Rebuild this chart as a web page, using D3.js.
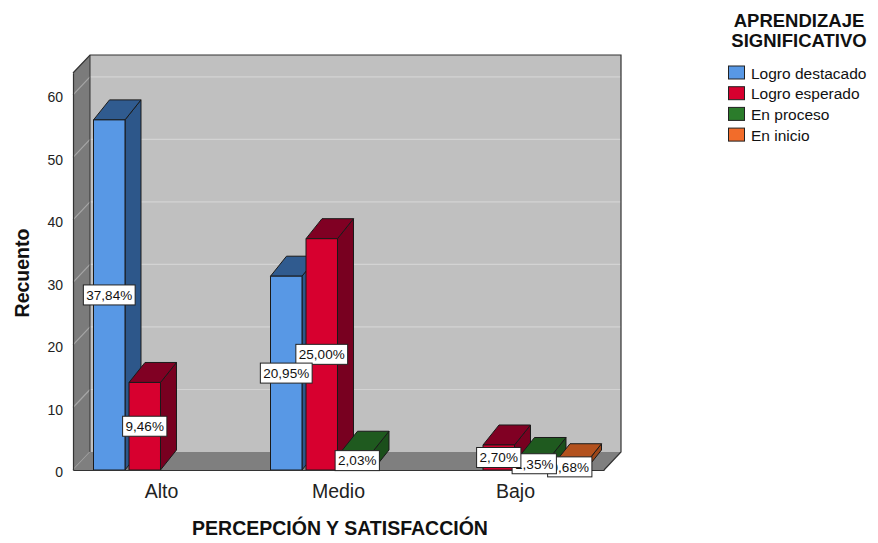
<!DOCTYPE html>
<html>
<head>
<meta charset="utf-8">
<script src="https://cdn.jsdelivr.net/npm/d3@7"></script>
<style>
  html, body { margin: 0; padding: 0; background: #ffffff; }
  svg { display: block; font-family: "Liberation Sans", Arial, sans-serif; }
</style>
</head>
<body>
<svg id="chart" width="878" height="543"></svg>
<script>
// Counts per perception level, one array per learning outcome
const categories = ["Alto", "Medio", "Bajo"];
const series = ["Logro destacado", "Logro esperado", "En proceso", "En inicio"];
const logroDestacado = [56, 31, 0];
const logroEsperado = [14, 37, 4];
const enProceso = [0, 3, 2];
const enInicio = [0, 0, 1];
const yTicks = [0, 10, 20, 30, 40, 50, 60];

const seriesValues = [logroDestacado, logroEsperado, enProceso, enInicio];

// Face colours: front, top, side
const faceColors = [
  { front: "#5898e5", top: "#305b8f", side: "#2d578a" },
  { front: "#d7002f", top: "#800023", side: "#780020" },
  { front: "#2b7c2b", top: "#1f5a1f", side: "#1b4f1b" },
  { front: "#f26c2a", top: "#b3511d", side: "#9c4618" }
];

(function () {
  const svg = d3.select("#chart");

  // Front plane of the 3D box and depth offsets
  const pLeft = 73, pRight = 604, pBottom = 470, pTop = 73;
  const wall = { dx: 17, dy: -18 };
  const depth = { dx: 16, dy: -20 };

  const y = d3.scaleLinear().domain([0, 63.5]).range([pBottom, pTop]);
  const x0 = d3.scaleBand().domain(categories).range([pLeft, pRight]);
  const x1 = d3.scaleBand().domain(series).range([20.5, 158.5]).paddingInner(0.113);

  const total = d3.sum(seriesValues.flat());
  const locale = d3.formatLocale({ decimal: ",", thousands: ".", grouping: [3], currency: ["", "€"] });
  const pct = locale.format(".2%");

  const line = d3.line();

  // Back wall
  const backTop = pTop + wall.dy;
  const backBottom = pBottom + wall.dy;
  svg.append("rect")
    .attr("x", pLeft + wall.dx).attr("y", backTop)
    .attr("width", pRight - pLeft).attr("height", backBottom - backTop)
    .attr("fill", "#c0c0c0");

  // Back wall gridlines
  svg.append("g").selectAll("line")
    .data(yTicks.filter(d => d > 0))
    .join("line")
    .attr("x1", pLeft + wall.dx).attr("x2", pRight + wall.dx)
    .attr("y1", d => y(d) + wall.dy).attr("y2", d => y(d) + wall.dy)
    .attr("stroke", "#d3d3d3").attr("stroke-width", 1.2);

  // Side wall
  svg.append("path")
    .attr("d", line([[pLeft, pTop], [pLeft + wall.dx, pTop + wall.dy], [pLeft + wall.dx, pBottom + wall.dy], [pLeft, pBottom]]) + "Z")
    .attr("fill", "#7b7b7b");

  svg.append("g").selectAll("line")
    .data(yTicks)
    .join("line")
    .attr("x1", pLeft).attr("x2", pLeft + wall.dx)
    .attr("y1", d => y(d)).attr("y2", d => y(d) + wall.dy)
    .attr("stroke", "#a6a6a6").attr("stroke-width", 1.2);

  // Floor
  svg.append("path")
    .attr("d", line([[pLeft, pBottom], [pRight, pBottom], [pRight + wall.dx, pBottom + wall.dy], [pLeft + wall.dx, pBottom + wall.dy]]) + "Z")
    .attr("fill", "#7f7f7f");

  // Inner corner edge
  svg.append("line")
    .attr("x1", pLeft + wall.dx).attr("x2", pLeft + wall.dx)
    .attr("y1", pTop + wall.dy).attr("y2", pBottom + wall.dy)
    .attr("stroke", "#333").attr("stroke-width", 1);

  // Box outline
  svg.append("path")
    .attr("d", line([[pLeft, pTop], [pLeft + wall.dx, pTop + wall.dy], [pRight + wall.dx, pTop + wall.dy],
                     [pRight + wall.dx, pBottom + wall.dy], [pRight, pBottom]]))
    .attr("fill", "none").attr("stroke", "#333").attr("stroke-width", 1.2);

  // Bars
  const bars = [];
  categories.forEach((c, ci) => {
    series.forEach((s, si) => {
      const v = seriesValues[si][ci];
      if (v > 0) bars.push({ c, s, si, v });
    });
  });

  const barG = svg.append("g");
  bars.forEach(b => {
    const xl = x0(b.c) + x1(b.s);
    const w = x1.bandwidth();
    const yt = y(b.v), yb = y(0);
    const col = faceColors[b.si];
    const g = barG.append("g")
      .attr("stroke", "#1a1a1a").attr("stroke-width", 1).attr("stroke-linejoin", "round");
    g.append("path")
      .attr("d", line([[xl + w, yt], [xl + w + depth.dx, yt + depth.dy], [xl + w + depth.dx, yb + depth.dy], [xl + w, yb]]) + "Z")
      .attr("fill", col.side);
    g.append("path")
      .attr("d", line([[xl, yt], [xl + depth.dx, yt + depth.dy], [xl + w + depth.dx, yt + depth.dy], [xl + w, yt]]) + "Z")
      .attr("fill", col.top);
    g.append("rect")
      .attr("x", xl).attr("y", yt).attr("width", w).attr("height", yb - yt)
      .attr("fill", col.front);
  });

  // Y axis (front edge of the side wall)
  const yAxis = svg.append("g")
    .attr("transform", `translate(${pLeft},0)`)
    .call(d3.axisLeft(y).tickValues(yTicks).tickSize(0).tickSizeOuter(0).tickPadding(10));
  yAxis.select(".domain").attr("stroke", "#333").attr("stroke-width", 1.2);
  yAxis.selectAll("text")
    .attr("font-size", 14).attr("fill", "#222").attr("dy", "0.48em")
    .attr("font-family", "Liberation Sans, Arial, sans-serif");

  // X axis (front floor edge)
  const xAxis = svg.append("g")
    .attr("transform", `translate(0,${pBottom})`)
    .call(d3.axisBottom(x0).tickSize(0).tickSizeOuter(0).tickPadding(14));
  xAxis.select(".domain").attr("stroke", "#333").attr("stroke-width", 1.2);
  xAxis.selectAll("text")
    .attr("font-size", 19.5).attr("fill", "#222")
    .attr("font-family", "Liberation Sans, Arial, sans-serif");

  // Value labels (percent of total), drawn last series first
  const labelG = svg.append("g");
  bars.slice().reverse().forEach(b => {
    const cx = x0(b.c) + x1(b.s) + x1.bandwidth() / 2;
    const cy = (y(b.v) + y(0)) / 2;
    const g = labelG.append("g").attr("transform", `translate(${cx},${cy})`);
    const t = g.append("text")
      .attr("text-anchor", "middle").attr("dy", "0.36em")
      .attr("font-size", 13.5).attr("fill", "#111")
      .text(pct(b.v / total));
    const bb = t.node().getBBox();
    g.insert("rect", "text")
      .attr("x", bb.x - 3).attr("y", -10)
      .attr("width", bb.width + 6).attr("height", 20)
      .attr("fill", "#fff").attr("stroke", "#222").attr("stroke-width", 1);
  });

  // Axis titles
  svg.append("text")
    .attr("transform", `translate(29,273) rotate(-90)`)
    .attr("text-anchor", "middle")
    .attr("font-size", 19.5).attr("font-weight", "bold").attr("fill", "#111")
    .text("Recuento");

  svg.append("text")
    .attr("x", 340).attr("y", 535)
    .attr("text-anchor", "middle")
    .attr("font-size", 19.5).attr("font-weight", "bold").attr("fill", "#111")
    .text("PERCEPCIÓN Y SATISFACCIÓN");

  // Legend
  const legend = svg.append("g");
  legend.append("text")
    .attr("x", 799).attr("y", 27).attr("text-anchor", "middle")
    .attr("font-size", 18.5).attr("font-weight", "bold").attr("fill", "#111")
    .text("APRENDIZAJE");
  legend.append("text")
    .attr("x", 799).attr("y", 47).attr("text-anchor", "middle")
    .attr("font-size", 18.5).attr("font-weight", "bold").attr("fill", "#111")
    .text("SIGNIFICATIVO");

  const item = legend.selectAll("g.item")
    .data(series)
    .join("g")
    .attr("class", "item")
    .attr("transform", (d, i) => `translate(728,${65.5 + i * 20.7})`);
  item.append("rect")
    .attr("x", 0.5).attr("y", 0.5).attr("width", 16).attr("height", 13)
    .attr("fill", (d, i) => faceColors[i].front)
    .attr("stroke", "#222").attr("stroke-width", 1);
  item.append("text")
    .attr("x", 23).attr("y", 13)
    .attr("font-size", 15.5).attr("fill", "#111")
    .text(d => d);
})();
</script>
</body>
</html>
